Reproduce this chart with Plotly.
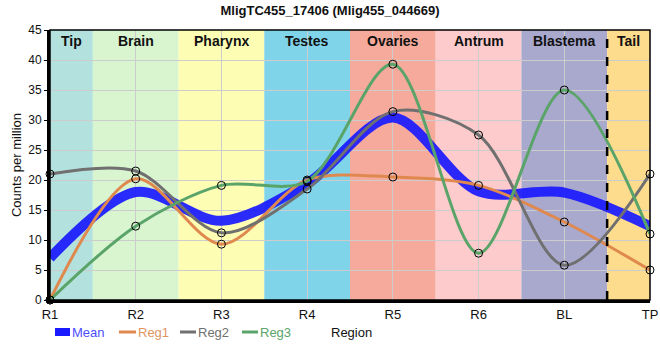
import plotly.graph_objects as go

regions = ["R1", "R2", "R3", "R4", "R5", "R6", "BL", "TP"]
mean_vals = [7.0, 18.0, 13.2, 19.4, 30.4, 18.1, 17.9, 12.3]
reg1 = [0.0, 20.2, 9.3, 20.0, 20.5, 19.1, 13.0, 5.0]
reg2 = [21.0, 21.5, 11.2, 18.5, 31.4, 27.5, 5.8, 21.0]
reg3 = [0.0, 12.3, 19.1, 19.8, 39.3, 7.8, 35.0, 11.0]

band_names = ["Tip", "Brain", "Pharynx", "Testes", "Ovaries", "Antrum", "Blastema", "Tail"]
band_starts = [0, 0.5, 1.5, 2.5, 3.5, 4.5, 5.5, 6.5]
band_ends = [0.5, 1.5, 2.5, 3.5, 4.5, 5.5, 6.5, 7]
band_colors = ["#b3e2de", "#d8f5d0", "#fdfdb4", "#7fd4ea", "#f5aa9c",
               "#fdcbcb", "#a9a8cd", "#fddc8d"]

c_mean = "#1a1aff"
c1 = "#e0894f"
c2 = "#707070"
c3 = "#5aa469"

xi = list(range(len(regions)))

fig = go.Figure()

for s, e, col in zip(band_starts, band_ends, band_colors):
    fig.add_shape(type="rect", xref="x", yref="y", x0=s, x1=e, y0=0, y1=45,
                  fillcolor=col, line_width=0, layer="below")

for name, s, e in zip(band_names, band_starts, band_ends):
    fig.add_annotation(x=(s + e) / 2, y=45, xref="x", yref="y", yanchor="top",
                       text="<b>" + name + "</b>", showarrow=False, yshift=-1,
                       font=dict(size=14, color="#111", family="Liberation Sans"))

fig.add_shape(type="line", xref="x", yref="y", x0=6.5, x1=6.5, y0=0, y1=45,
              line=dict(color="black", width=2.5, dash="dash"), layer="above")

mk = dict(size=8, color="rgba(0,0,0,0)", line=dict(color="black", width=1))

fig.add_trace(go.Scatter(x=xi, y=mean_vals, mode="lines", line_shape="spline",
                         line=dict(color=c_mean, width=10, smoothing=0.9),
                         opacity=0.92, showlegend=False))
for ys, col in [(reg1, c1), (reg2, c2), (reg3, c3)]:
    fig.add_trace(go.Scatter(x=xi, y=ys, mode="lines", line_shape="spline",
                             line=dict(color=col, width=3, smoothing=0.9),
                             showlegend=False))
for ys in [reg1, reg2, reg3]:
    fig.add_trace(go.Scatter(x=xi, y=ys, mode="markers", marker=mk,
                             showlegend=False, cliponaxis=False))

# manual legend (pixel positions converted to paper coords; plot 50..650 x, 30..300 y)
def px(x):
    return (x - 50) / 600.0

ly = (300 - 332) / 270.0
legend_items = [
    ("Mean", c_mean, 8, 55, 70, "#4d4dff"),
    ("Reg1", c1, 3, 119, 136, "#e0955f"),
    ("Reg2", c2, 3, 180, 196, "#707070"),
    ("Reg3", c3, 3, 242, 258, "#5aa469"),
]
for label, col, w, x0, x1, tcol in legend_items:
    fig.add_shape(type="line", xref="paper", yref="paper", x0=px(x0), x1=px(x1),
                  y0=ly, y1=ly, line=dict(color=col, width=w))
    fig.add_annotation(x=px(x1 + 1), y=ly, xref="paper", yref="paper",
                       xanchor="left", yanchor="middle", text=label, showarrow=False,
                       borderpad=0,
                       font=dict(size=13, color=tcol, family="Liberation Sans"))

fig.add_annotation(x=px(330), y=ly, xref="paper", yref="paper", yanchor="middle",
                   xanchor="left", text="Region", showarrow=False, borderpad=0,
                   font=dict(size=13, color="#111", family="Liberation Sans"))

fig.update_layout(
    width=660, height=360,
    margin=dict(l=50, r=10, t=30, b=60, autoexpand=False),
    paper_bgcolor="white", plot_bgcolor="white",
    title=dict(text="<b>MligTC455_17406 (Mlig455_044669)</b>", x=0.5, xanchor="center",
               y=0.985, yanchor="top",
               font=dict(size=13, color="#111", family="Liberation Sans")),
    font=dict(family="Liberation Sans", size=12, color="#111"),
    showlegend=False,
    xaxis=dict(range=[0, 7], tickmode="array", tickvals=xi, ticktext=regions,
               showgrid=True, gridcolor="#cccccc", gridwidth=1, automargin=False,
               showline=True, linecolor="black", linewidth=3, mirror=False,
               ticks="",
               tickfont=dict(size=13, color="#111"), zeroline=False),
    yaxis=dict(range=[0, 45], tickmode="linear", dtick=5, tick0=0, automargin=False,
               showgrid=True, gridcolor="#cccccc", gridwidth=1,
               showline=True, linecolor="black", linewidth=3,
               ticks="outside", ticklen=3, tickcolor="black",
               title=dict(text="Counts per million", font=dict(size=13), standoff=4),
               tickfont=dict(size=12, color="#111"), zeroline=False),
)

fig.add_shape(type="rect", xref="paper", yref="paper", x0=0, x1=1, y0=0, y1=1,
              line=dict(color="black", width=1.5), fillcolor="rgba(0,0,0,0)", layer="above")

fig.write_html("out.html", config={"displayModeBar": False},
               post_script="document.body.style.margin='0';")
